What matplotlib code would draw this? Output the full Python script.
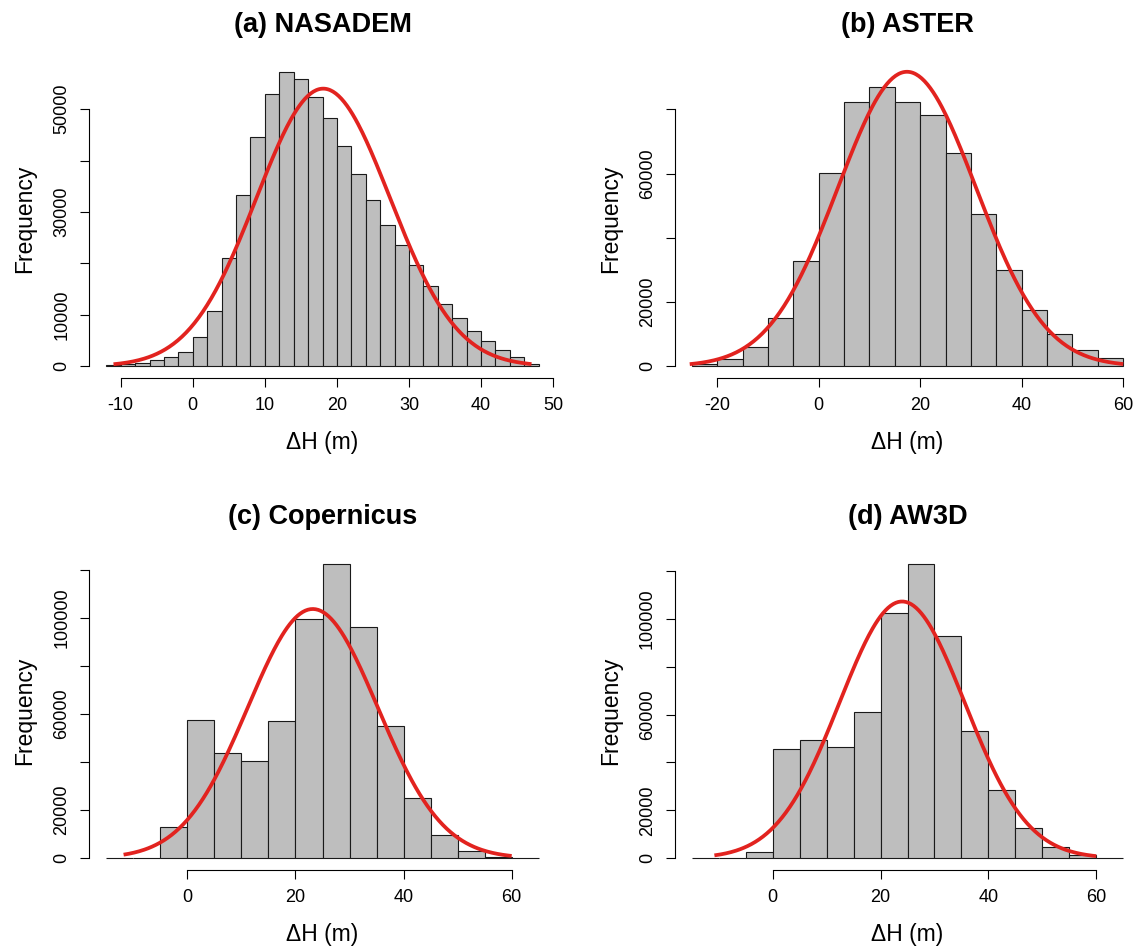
import numpy as np
import matplotlib.pyplot as plt

plt.rcParams['font.family'] = ['Liberation Sans', 'DejaVu Sans']

# histogram counts per panel (bin start, bin width, counts)
nasadem_start, nasadem_width = -12, 2
nasadem_counts = [300, 500, 700, 1200, 1750, 2850, 5640, 10770, 20950, 33270,
                  44490, 52850, 57260, 55840, 52330, 48180, 42800, 37290, 32360, 27560,
                  23540, 19780, 15630, 12130, 9340, 6810, 4990, 3110, 1750, 520]

aster_start, aster_width = -25, 5
aster_counts = [600, 2190, 5940, 14900, 32700, 60200, 82400, 86800, 82400, 78200,
                66250, 47500, 30100, 17400, 9900, 5100, 2500]

copernicus_start, copernicus_width = -15, 5
copernicus_counts = [0, 0, 12930, 57720, 43810, 40330, 57300, 99580, 122530, 96110,
                     55220, 25170, 9870, 2920, 420, 0]

aw3d_start, aw3d_width = -15, 5
aw3d_counts = [0, 0, 2790, 45780, 49270, 46340, 60850, 102300, 122950, 92810,
               53310, 28330, 12420, 4880, 1400, 0]

# fitted normal curve: mean, sd, data range
nasadem_fit = (18.1, 9.26, -11.0, 47.0)
aster_fit = (17.4, 13.6, -25.4, 60.0)
copernicus_fit = (23.2, 12.0, -11.8, 60.0)
aw3d_fit = (24.0, 11.6, -10.8, 60.0)

titles = ['(a) NASADEM', '(b) ASTER', '(c) Copernicus', '(d) AW3D']

# axis ticks and which y ticks get a label
nasadem_xticks = [-10, 0, 10, 20, 30, 40, 50]
aster_xticks = [-20, 0, 20, 40, 60]
bottom_xticks = [0, 20, 40, 60]
nasadem_yticks = [0, 10000, 20000, 30000, 40000, 50000]
nasadem_ylabels = ['0', '10000', '', '30000', '', '50000']
aster_yticks = [0, 20000, 40000, 60000, 80000]
aster_ylabels = ['0', '20000', '', '60000', '']
bottom_yticks = [0, 20000, 40000, 60000, 80000, 100000, 120000]
bottom_ylabels = ['0', '20000', '', '60000', '', '100000', '']

W, H = 1137, 950
fig = plt.figure(figsize=(W / 100, H / 100), dpi=100)

def px_axes(left, top, right, bottom):
    return fig.add_axes([left / W, 1 - bottom / H, (right - left) / W, (bottom - top) / H])

panels = [
    (px_axes(89, 60, 556, 378), nasadem_start, nasadem_width, nasadem_counts, nasadem_fit,
     nasadem_xticks, nasadem_yticks, nasadem_ylabels),
    (px_axes(674.5, 60, 1140.5, 378), aster_start, aster_width, aster_counts, aster_fit,
     aster_xticks, aster_yticks, aster_ylabels),
    (px_axes(89, 552, 556, 870), copernicus_start, copernicus_width, copernicus_counts, copernicus_fit,
     bottom_xticks, bottom_yticks, bottom_ylabels),
    (px_axes(674.5, 552, 1140.5, 870), aw3d_start, aw3d_width, aw3d_counts, aw3d_fit,
     bottom_xticks, bottom_yticks, bottom_ylabels),
]

PX = 0.72  # points per pixel at dpi 100

for (ax, start, bw, counts, fit, xticks, yticks, ylabels), title in zip(panels, titles):
    counts = np.array(counts, dtype=float)
    lefts = start + bw * np.arange(len(counts))
    ax.bar(lefts, counts, width=bw, align='edge', color='#BEBEBE',
           edgecolor='#1a1a1a', linewidth=0.8, zorder=2)

    mu, sd, lo, hi = fit
    xs = np.linspace(lo, hi, 300)
    ys = counts.sum() * bw / (sd * np.sqrt(2 * np.pi)) * np.exp(-0.5 * ((xs - mu) / sd) ** 2)
    ax.plot(xs, ys, color='#E2231F', lw=2.7, zorder=3, clip_on=False,
            solid_capstyle='butt')

    # R-style plot region: 4% padding around the data
    x0, x1 = start, start + bw * len(counts)
    pad = 0.04 * (x1 - x0)
    ax.set_xlim(x0 - pad, x1 + pad)
    ymax = max(counts.max(), ys.max())
    ax.set_ylim(-0.04 * ymax, 1.04 * ymax)

    for s in ['top', 'right']:
        ax.spines[s].set_visible(False)
    ax.spines['left'].set_bounds(yticks[0], yticks[-1])
    ax.spines['bottom'].set_bounds(xticks[0], xticks[-1])
    for s in ['left', 'bottom']:
        ax.spines[s].set_linewidth(0.8)

    ax.set_xticks(xticks)
    ax.set_xticklabels([str(t) for t in xticks])
    ax.set_yticks(yticks)
    ax.set_yticklabels(ylabels)
    ax.tick_params(direction='out', length=9 * PX, width=0.8, labelsize=13, pad=7)
    for lab in ax.get_yticklabels():
        lab.set_rotation(90)
        lab.set_va('center')

    ax.annotate(title, xy=(0.5, 1), xycoords='axes fraction', xytext=(0, 35 * PX),
                textcoords='offset points', ha='center', va='center',
                fontsize=19.5, fontweight='bold')
    ax.annotate('\u0394H (m)', xy=(0.5, 0), xycoords='axes fraction', xytext=(0, -64 * PX),
                textcoords='offset points', ha='center', va='center', fontsize=16.5)
    ax.annotate('Frequency', xy=(0, 0.5), xycoords='axes fraction', xytext=(-64 * PX, 0),
                textcoords='offset points', ha='center', va='center', fontsize=16.5,
                rotation=90)

fig.savefig('out.png', dpi=100)
